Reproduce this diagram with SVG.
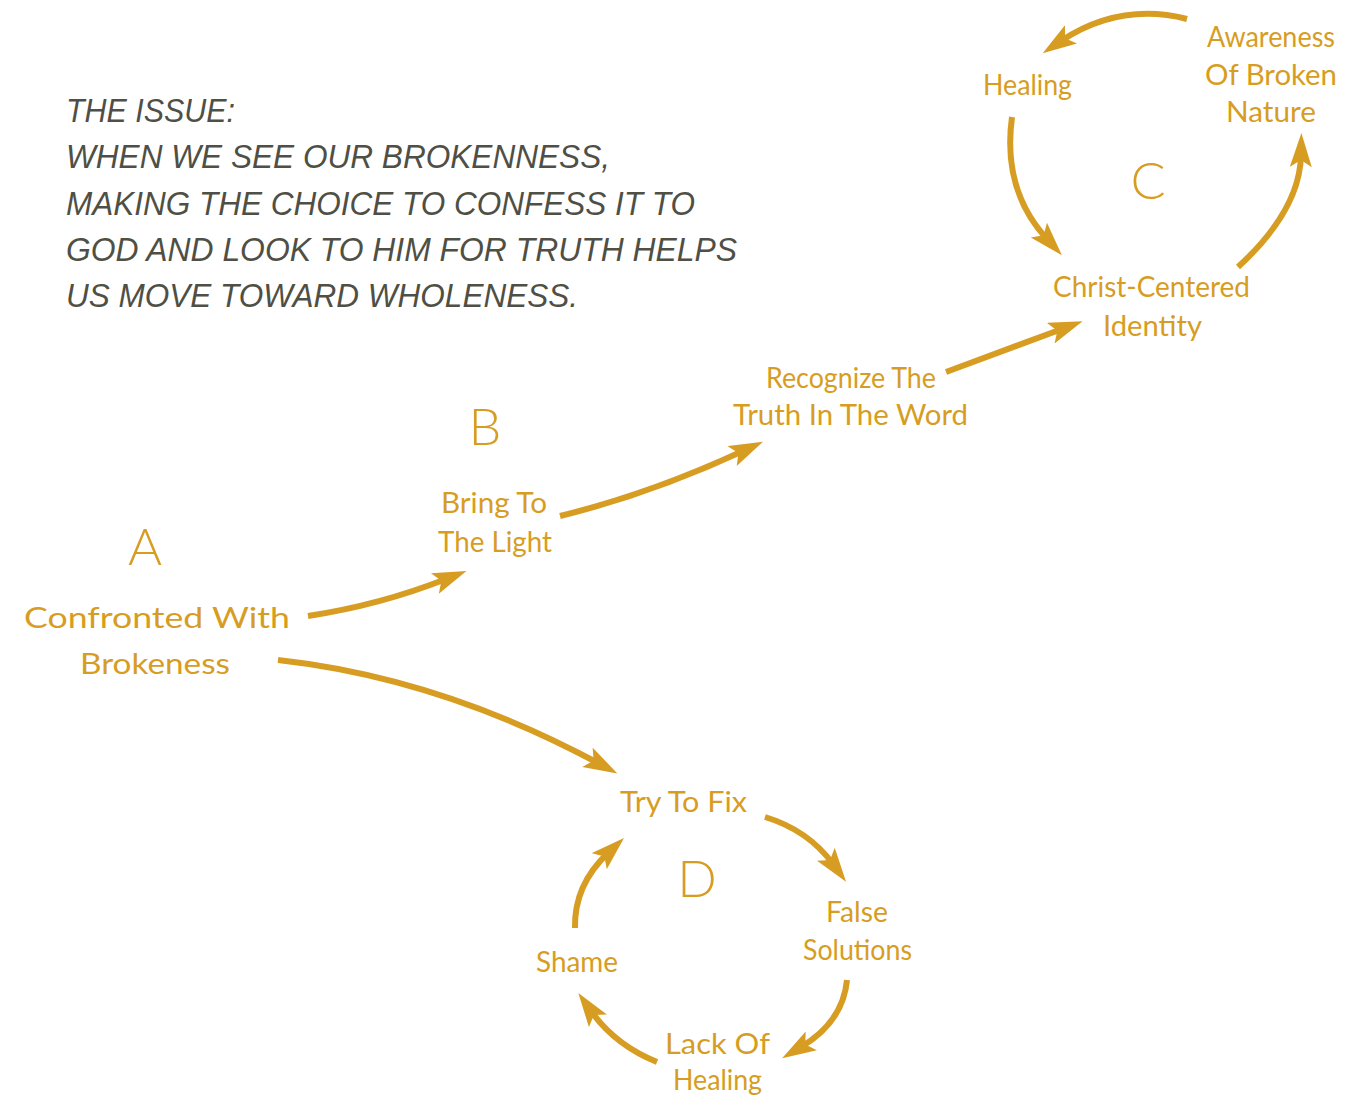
<svg xmlns="http://www.w3.org/2000/svg" width="1369" height="1099" viewBox="0 0 1369 1099">
<style>
.issue{font-family:"Liberation Sans",Arial,sans-serif;font-style:italic;font-size:33px;fill:#4F4F45;}
.lbl{font-family:"Lato","Liberation Sans",sans-serif;font-size:29px;fill:#D79D22;}
.big{font-family:"Lato","Liberation Sans",sans-serif;font-size:52px;fill:#D79D22;text-anchor:middle;font-weight:300;}
.conn path{fill:none;stroke:#D79D22;stroke-width:6;marker-end:url(#ah);}
</style>
<defs>
<marker id="ah" markerUnits="userSpaceOnUse" markerWidth="36" markerHeight="24" refX="12" refY="11" orient="auto" viewBox="0 0 36 24">
<path d="M0,0 L34,11 L0,22 L7,11 z" fill="#D79D22"/>
</marker>
</defs>
<g id="issue">
<text class="issue" x="66" y="122" textLength="169" lengthAdjust="spacingAndGlyphs">THE ISSUE:</text>
<text class="issue" x="66" y="168" textLength="544" lengthAdjust="spacingAndGlyphs">WHEN WE SEE OUR BROKENNESS,</text>
<text class="issue" x="66" y="215" textLength="629" lengthAdjust="spacingAndGlyphs">MAKING THE CHOICE TO CONFESS IT TO</text>
<text class="issue" x="66" y="261" textLength="671" lengthAdjust="spacingAndGlyphs">GOD AND LOOK TO HIM FOR TRUTH HELPS</text>
<text class="issue" x="66" y="307" textLength="512" lengthAdjust="spacingAndGlyphs">US MOVE TOWARD WHOLENESS.</text>
</g>
<g class="conn" id="connectors">
<path d="M308,616 Q380,605 446,579"/>
<path d="M560,516 Q650,494 743,451"/>
<path d="M946,372 L1062,329"/>
<path d="M278,660 Q440,678 598,763"/>
<path d="M1187,19 Q1120,2 1061,41"/>
<path d="M1012,117 Q1002,190 1047,239"/>
<path d="M1238,267 Q1300,210 1301,155"/>
<path d="M765,817 Q808,830 833,864"/>
<path d="M847,980 Q843,1022 801,1047"/>
<path d="M657,1062 Q615,1045 591,1011"/>
<path d="M575,928 Q574,885 608,853"/>
</g>
<g id="letter-a"><text class="big" x="145" y="565">A</text></g>
<g id="letter-b"><text class="big" x="485" y="445">B</text></g>
<g id="letter-c"><text class="big" x="1148" y="199">C</text></g>
<g id="letter-d"><text class="big" x="697" y="897">D</text></g>
<g id="confronted">
<text class="lbl" x="24" y="628" font-size="36" textLength="266" lengthAdjust="spacingAndGlyphs">Confronted With</text>
<text class="lbl" x="80" y="674" font-size="36" textLength="150" lengthAdjust="spacingAndGlyphs">Brokeness</text>
</g>
<g id="bring">
<text class="lbl" x="441" y="513" textLength="106" lengthAdjust="spacingAndGlyphs">Bring To</text>
<text class="lbl" x="438" y="552" textLength="114" lengthAdjust="spacingAndGlyphs">The Light</text>
</g>
<g id="recognize">
<text class="lbl" x="766" y="388" textLength="170" lengthAdjust="spacingAndGlyphs">Recognize The</text>
<text class="lbl" x="733" y="425" textLength="235" lengthAdjust="spacingAndGlyphs">Truth In The Word</text>
</g>
<g id="christ">
<text class="lbl" x="1053" y="297" textLength="197" lengthAdjust="spacingAndGlyphs">Christ-Centered</text>
<text class="lbl" x="1103" y="336" textLength="99" lengthAdjust="spacingAndGlyphs">Identity</text>
</g>
<g id="healing-c">
<text class="lbl" x="983" y="95" textLength="89" lengthAdjust="spacingAndGlyphs">Healing</text>
</g>
<g id="awareness">
<text class="lbl" x="1207" y="47" textLength="128" lengthAdjust="spacingAndGlyphs">Awareness</text>
<text class="lbl" x="1205" y="85" textLength="132" lengthAdjust="spacingAndGlyphs">Of Broken</text>
<text class="lbl" x="1226" y="122" textLength="90" lengthAdjust="spacingAndGlyphs">Nature</text>
</g>
<g id="tryfix">
<text class="lbl" x="620" y="812" textLength="127" lengthAdjust="spacingAndGlyphs">Try To Fix</text>
</g>
<g id="false">
<text class="lbl" x="826" y="922" textLength="62" lengthAdjust="spacingAndGlyphs">False</text>
<text class="lbl" x="803" y="960" textLength="109" lengthAdjust="spacingAndGlyphs">Solutions</text>
</g>
<g id="shame">
<text class="lbl" x="536" y="972" textLength="82" lengthAdjust="spacingAndGlyphs">Shame</text>
</g>
<g id="lack">
<text class="lbl" x="665" y="1054" textLength="105" lengthAdjust="spacingAndGlyphs">Lack Of</text>
<text class="lbl" x="673" y="1090" textLength="89" lengthAdjust="spacingAndGlyphs">Healing</text>
</g>
</svg>
